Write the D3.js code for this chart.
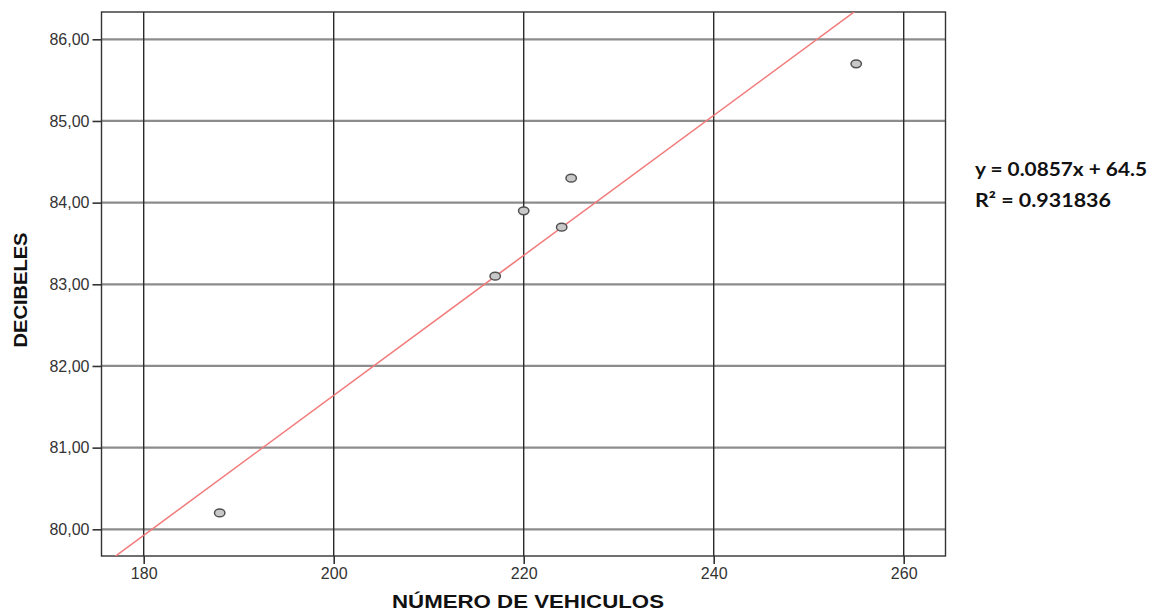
<!DOCTYPE html>
<html>
<head>
<meta charset="utf-8">
<script src="https://cdn.jsdelivr.net/npm/d3@7"></script>
<style>
  html, body { margin: 0; padding: 0; background: #fff; }
  svg { display: block; }
</style>
</head>
<body>
<svg id="chart" width="1165" height="611"></svg>
<script>
// Vehicles counted vs. measured noise level (dB)
const vehiculos = [188, 217, 220, 224, 225, 255];
const decibeles = [80.2, 83.1, 83.9, 83.7, 84.3, 85.7];

const xTicks = [180, 200, 220, 240, 260];
const yTicks = [80, 81, 82, 83, 84, 85, 86];

// Linear fit as printed beside the chart
const slope = 0.0857;
const intercept = 64.5;
const eqLabel = "y = 0.0857x + 64.5";
const r2Label = "R² = 0.931836";

const xTitle = "NÚMERO DE VEHICULOS";
const yTitle = "DECIBELES";

const plot = { left: 101.5, top: 12, right: 945.5, bottom: 556 };

const svg = d3.select("#chart");

const x = d3.scaleLinear().domain([180, 240]).range([143.7, 713.7]);
x.domain([x.invert(plot.left), x.invert(plot.right)]).range([plot.left, plot.right]);

const y = d3.scaleLinear().domain([80, 86]).range([529.3, 39.3]);
y.domain([y.invert(plot.bottom), y.invert(plot.top)]).range([plot.bottom, plot.top]);

// clip for the fit line
svg.append("defs").append("clipPath").attr("id", "plotClip")
  .append("rect")
  .attr("x", plot.left).attr("y", plot.top)
  .attr("width", plot.right - plot.left).attr("height", plot.bottom - plot.top);

// horizontal grid lines
svg.append("g").selectAll("line").data(yTicks).join("line")
  .attr("x1", plot.left).attr("x2", plot.right)
  .attr("y1", d => y(d)).attr("y2", d => y(d))
  .attr("stroke", "#8c8c8c").attr("stroke-width", 2.2);

// vertical grid lines
svg.append("g").selectAll("line").data(xTicks).join("line")
  .attr("x1", d => x(d)).attr("x2", d => x(d))
  .attr("y1", plot.top).attr("y2", plot.bottom)
  .attr("stroke", "#2a2a2a").attr("stroke-width", 1.4);

// frame
svg.append("rect")
  .attr("x", plot.left).attr("y", plot.top)
  .attr("width", plot.right - plot.left).attr("height", plot.bottom - plot.top)
  .attr("fill", "none").attr("stroke", "#333").attr("stroke-width", 1.4);

// axes
const xAxis = d3.axisBottom(x).tickValues(xTicks).tickSize(8).tickPadding(4)
  .tickFormat(d3.format("d"));
const yAxis = d3.axisLeft(y).tickValues(yTicks).tickSize(9).tickPadding(3)
  .tickFormat(d => d.toFixed(2).replace(".", ","));

const gx = svg.append("g").attr("transform", `translate(0,${plot.bottom})`).call(xAxis);
const gy = svg.append("g").attr("transform", `translate(${plot.left},0)`).call(yAxis);

[gx, gy].forEach(g => {
  g.select(".domain").remove();
  g.selectAll(".tick line").attr("stroke", "#333").attr("stroke-width", 1.6);
  g.selectAll(".tick text")
    .attr("fill", "#333")
    .style("font-family", "'Liberation Sans', Arial, sans-serif")
    .style("font-size", "16px");
});

// regression line
const xDom = x.domain();
const fitPts = [xDom[0] - 5, xDom[1] + 5].map(v => [v, slope * v + intercept]);
svg.append("path")
  .attr("clip-path", "url(#plotClip)")
  .attr("d", d3.line().x(d => x(d[0])).y(d => y(d[1]))(fitPts))
  .attr("fill", "none").attr("stroke", "#f27a7a").attr("stroke-width", 1.5);

// observations
svg.append("g").selectAll("ellipse").data(vehiculos.map((v, i) => [v, decibeles[i]])).join("ellipse")
  .attr("cx", d => x(d[0])).attr("cy", d => y(d[1]))
  .attr("rx", 5.2).attr("ry", 3.9)
  .attr("fill", "#c8c8c8").attr("stroke", "#505050").attr("stroke-width", 1.5);

// axis titles
svg.append("text")
  .attr("x", 528).attr("y", 608)
  .attr("text-anchor", "middle")
  .attr("textLength", 272).attr("lengthAdjust", "spacingAndGlyphs")
  .style("font-family", "'Liberation Sans', Arial, sans-serif")
  .style("font-weight", "bold").style("font-size", "19px")
  .attr("fill", "#111")
  .text(xTitle);

svg.append("text")
  .attr("transform", "translate(27,290) rotate(-90)")
  .attr("text-anchor", "middle")
  .attr("textLength", 115).attr("lengthAdjust", "spacingAndGlyphs")
  .style("font-family", "'Liberation Sans', Arial, sans-serif")
  .style("font-weight", "bold").style("font-size", "19px")
  .attr("fill", "#111")
  .text(yTitle);

// fit equation
const eq = svg.append("g")
  .style("font-family", "Lato, 'Open Sans', sans-serif")
  .style("font-weight", "bold").style("font-size", "19px")
  .attr("fill", "#111");
eq.append("text").attr("x", 975).attr("y", 176)
  .attr("textLength", 172).attr("lengthAdjust", "spacingAndGlyphs").text(eqLabel);
eq.append("text").attr("x", 975).attr("y", 207)
  .attr("textLength", 136).attr("lengthAdjust", "spacingAndGlyphs").text(r2Label);
</script>
</body>
</html>
